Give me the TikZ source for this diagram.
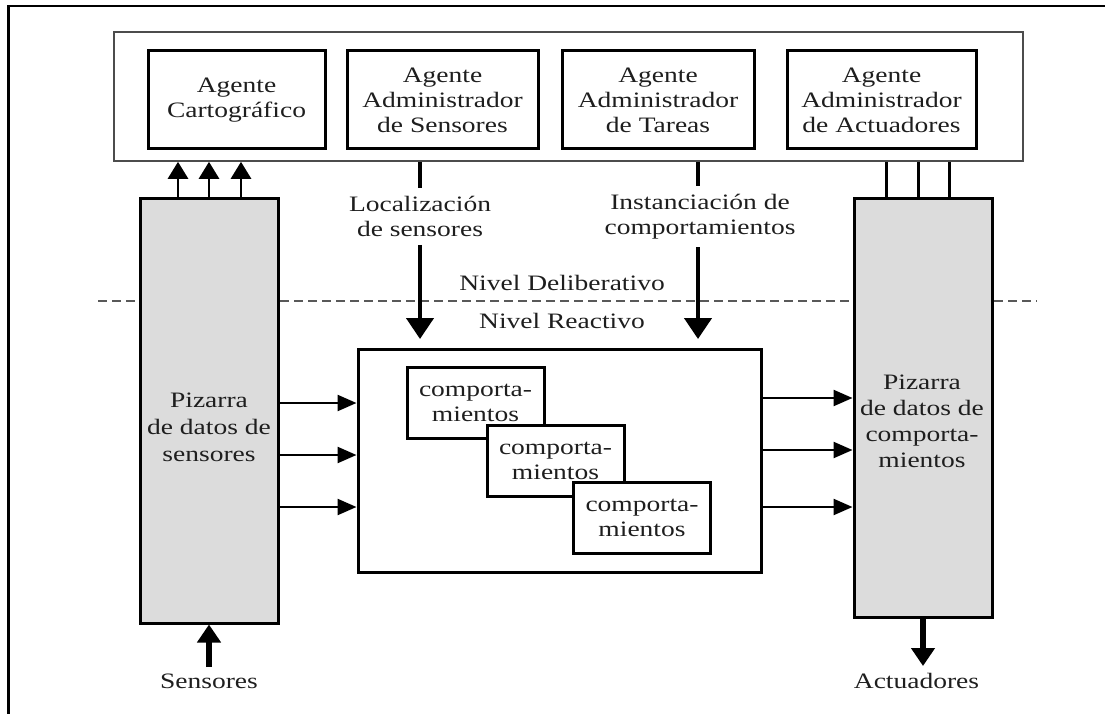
\documentclass[tikz,border=0pt]{standalone}
\usepackage{fontspec}
\setmainfont{Liberation Serif}[FakeStretch=1.25]
\usetikzlibrary{arrows.meta}
\definecolor{pil}{RGB}{220,220,220}
\definecolor{txtc}{RGB}{30,30,30}
\begin{document}
\begin{tikzpicture}[x=1pt,y=-1pt,
  txt/.style={font=\fontsize{22}{25}\selectfont, text=txtc, align=center, inner sep=0pt},
  agentbox/.style={draw, line width=3pt, fill=white, minimum height=98pt, inner sep=0pt, txt},
  subbox/.style={draw, line width=3pt, fill=white, minimum width=137pt, minimum height=71pt, inner sep=0pt, txt},
  pillar/.style={draw, line width=3pt, fill=pil, minimum width=138pt, inner sep=0pt},
  container/.style={draw=black!70, line width=1.6pt, fill=white, inner sep=0pt},
  uparr/.style={line width=2.8pt, -{Triangle[width=20pt,length=17pt]}},
  harr/.style={line width=2.4pt, -{Triangle[width=16pt,length=19pt]}},
  darr/.style={line width=4.4pt, -{Triangle[width=27pt,length=21pt]}},
  dseg/.style={line width=4.4pt},
  bigarr/.style={line width=6.5pt, -{Triangle[width=23pt,length=18pt]}},
  plainline/.style={line width=3pt},
  dline/.style={line width=1.8pt, draw=black!65, dash pattern=on 9pt off 5pt}
]
\useasboundingbox (0,0) rectangle (1105,714);
% outer frame (top and left)
\draw[line width=2.8pt] (8.7,714) -- (8.7,6) -- (1105,6);
% level separator
\draw[dline] (98,301) -- (1037,301);
% container of agents
\node[container, minimum width=909pt, minimum height=129pt] (cont) at (568.5,96.5) {};
\node[agentbox, minimum width=177pt] (a1) at (236.5,100) {Agente\\Cartográfico};
\node[agentbox, minimum width=191pt] (a2) at (442.5,100) {Agente\\Administrador\\de Sensores};
\node[agentbox, minimum width=192pt] (a3) at (658,100) {Agente\\Administrador\\de Tareas};
\node[agentbox, minimum width=189pt] (a4) at (881.5,100) {Agente\\Administrador\\de Actuadores};
% pillars
\node[pillar, minimum height=424pt] (pilL) at (209,411) {};
\node[pillar, minimum height=418pt] (pilR) at (923,408) {};
\node[txt, font=\fontsize{22}{27}\selectfont] (tL) at (209,427) {Pizarra\\de datos de\\sensores};
\node[txt, font=\fontsize{22}{26}\selectfont] (tR) at (922,421) {Pizarra\\de datos de\\comporta-\\mientos};
% central box
\node[draw, line width=3pt, fill=white, minimum width=403pt, minimum height=223pt, inner sep=0pt] (cent) at (559.5,460.5) {};
\node[subbox] (b1) at (475.5,402.5) {comporta-\\mientos};
\node[subbox] (b2) at (555.5,460.5) {comporta-\\mientos};
\node[subbox] (b3) at (642,517.5) {comporta-\\mientos};
% level labels
\node[txt, anchor=base] (nd) at (562,290) {Nivel Deliberativo};
\node[txt, anchor=base] (nr) at (562,328) {Nivel Reactivo};
% arrow labels
\node[txt, inner ysep=8pt] (l1) at (420,216.5) {Localización\\de sensores};
\node[txt, inner ysep=8pt] (l2) at (700,216.5) {Instanciación de\\comportamientos};
\coordinate (t1) at (420,339);
\coordinate (t2) at (698,339);
\draw[dseg] (l1.north |- cont.south) -- (l1.north);
\draw[darr] (l1.south) -- (t1);
\draw[dseg] (t2 |- cont.south) -- (t2 |- l2.north);
\draw[darr] (t2 |- l2.south) -- (t2);
% pillar to container
\draw[uparr] ([xshift=-31pt]pilL.north) -- ([xshift=-31pt]pilL.north |- cont.south);
\draw[uparr] (pilL.north) -- (pilL.north |- cont.south);
\draw[uparr] ([xshift=32pt]pilL.north) -- ([xshift=32pt]pilL.north |- cont.south);
\draw[plainline] ([xshift=-37pt]pilR.north) -- ([xshift=-37pt]pilR.north |- cont.south);
\draw[plainline] ([xshift=-5pt]pilR.north) -- ([xshift=-5pt]pilR.north |- cont.south);
\draw[plainline] ([xshift=26pt]pilR.north) -- ([xshift=26pt]pilR.north |- cont.south);
% horizontal arrows
\draw[harr] (pilL.east |- 0,403) -- (cent.west |- 0,403);
\draw[harr] (pilL.east |- 0,455) -- (cent.west |- 0,455);
\draw[harr] (pilL.east |- 0,507) -- (cent.west |- 0,507);
\draw[harr] (cent.east |- 0,398) -- (pilR.west |- 0,398);
\draw[harr] (cent.east |- 0,450) -- (pilR.west |- 0,450);
\draw[harr] (cent.east |- 0,507) -- (pilR.west |- 0,507);
% sensors / actuators
\node[txt, anchor=base] (sens) at (209,688) {Sensores};
\node[txt, anchor=base] (act) at (916.5,688) {Actuadores};
\coordinate (sb) at (209,667);
\coordinate (ta) at (923,666);
\draw[bigarr] (sb) -- (pilL.south);
\draw[bigarr] (pilR.south) -- (ta);
\end{tikzpicture}
\end{document}
